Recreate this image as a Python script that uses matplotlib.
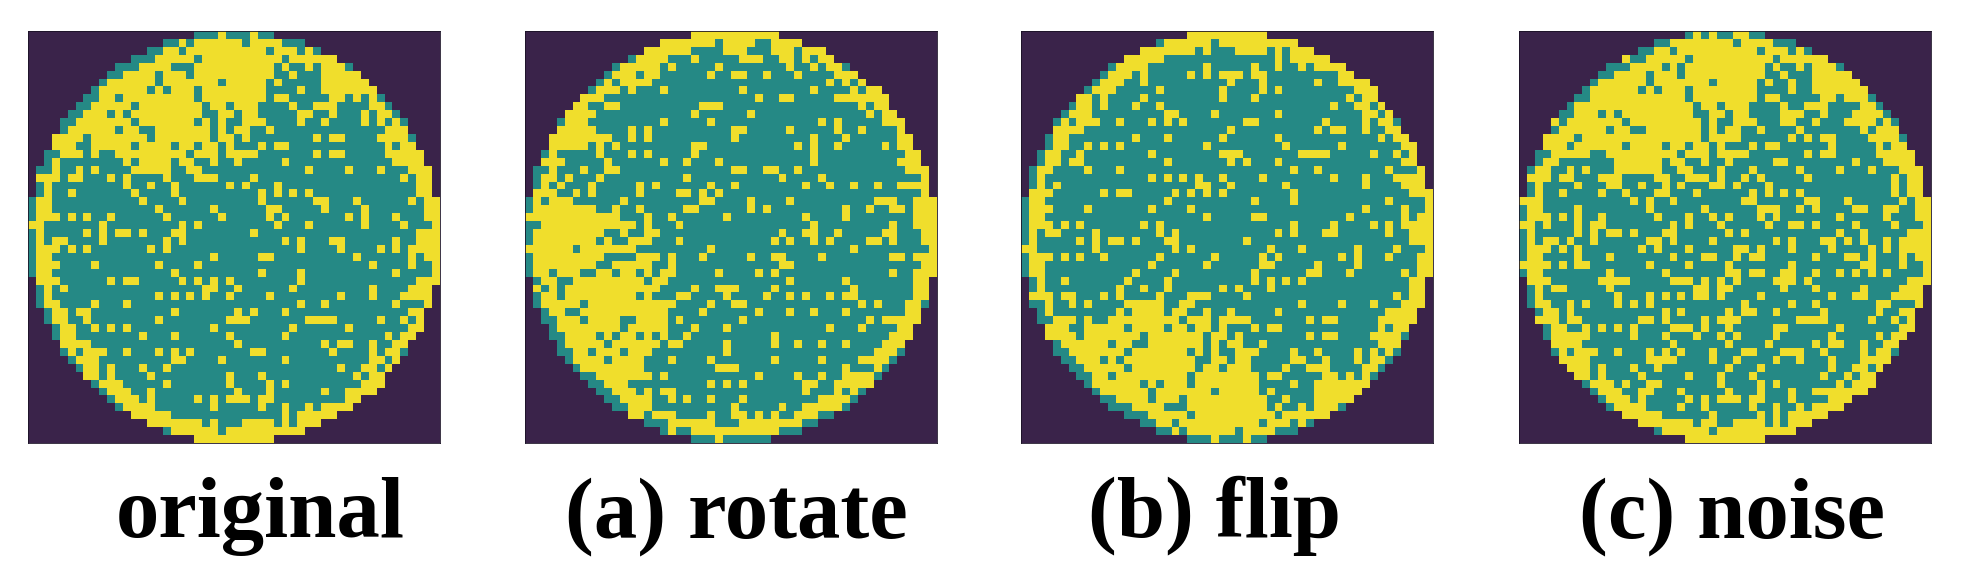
#! /usr/bin/env python

import matplotlib
matplotlib.use('Agg')
import numpy as np
import matplotlib.pyplot as plt
from matplotlib.colors import ListedColormap

# wafer maps, each row is "<kind><first column>" runs
# d = outside the wafer, g = good die, y = bad die
original_rows = [
"d0 g21 y24 g25 y28 g29 d31",
"d0 g17 y19 g20 y21 g27 y28 g32 d35",
"d0 g15 y17 g19 y20 g30 y31 g34 y35 g36 d37",
"d0 g13 y16 g21 y22 g32 y33 d39",
"d0 g11 y14 g18 y21 g31 y32 g33 y35 g36 y37 g40 d41",
"d0 g10 y12 g16 y17 g20 y21 g31 y33 g34 y37 d42",
"d0 g9 y10 g16 y17 g24 y25 g30 y31 g32 y37 d43",
"d0 g8 y9 g15 y16 g17 y18 g21 y22 g30 y34 g35 y37 d44",
"d0 g7 y9 g11 y12 g21 y22 g30 y31 g33 y38 g40 y41 g42 y43 g44 d45",
"d0 g6 y8 g13 y14 g22 y23 g25 y26 g29 y33 g34 y36 g39 y43 g45 d46",
"d0 g5 y7 g10 y11 g12 y13 g22 y24 g26 y27 g29 y34 g36 y38 g39 y42 g43 y44 g46 d47",
"d0 g4 y6 g13 y14 g21 y22 g23 y24 g25 y27 g30 y34 g35 y37 g38 y42 g43 y44 g45 y46 g47 d48",
"d0 g4 y5 g11 y12 g14 y16 g23 y24 g25 y26 g28 y30 g31 y45 d48",
"d0 y3 g7 y8 g15 y16 g23 y24 g26 y27 g28 y36 g37 y38 g40 y44 g48 d49",
"d0 y3 g6 y8 g13 y14 g18 y19 g21 y22 g24 y25 g26 y29 g30 y31 g33 y45 g46 y47 d49",
"d0 g2 y4 g7 y8 g9 y11 g20 y21 g24 y25 g29 y36 g37 y38 g40 y45 d50",
"d0 g2 y3 g4 y12 g13 y14 g18 y19 g21 y23 g24 y26 g27 y32 g33 y46 d50",
"d0 g1 y3 g4 y6 g7 y8 g9 y13 g18 y20 g22 y35 g36 y40 g41 y44 g45 y48 d51",
"d0 y1 g4 y5 g7 y10 g11 y12 g13 y17 g18 y21 g24 y28 g29 y47 g48 y49 d51",
"d0 g1 y2 g3 y12 g13 y15 g16 y18 g19 y25 g26 y27 g28 y31 g32 y49 d51",
"d0 g1 y2 g3 y5 g6 y13 g14 y18 g19 y29 g30 y31 g32 y33 g34 y35 g36 y49 d51",
"g0 y1 g3 y14 g15 y19 g20 y29 g30 y36 g38 y41 g42 y48 g49 y50",
"g0 y1 g3 y16 g17 y23 g24 y30 g32 y37 g38 y42 g43 y50",
"g0 y1 g4 y5 g6 y7 g8 y10 g11 y17 g18 y24 g25 y30 g31 y32 g33 y40 g41 y42 g43 y46 g47 y50",
"y0 g2 y9 g10 y19 g20 y21 g22 y31 g32 y35 g36 y42 g43 y47 g48 y51",
"g0 y1 g2 y7 g8 y9 g10 y11 g13 y14 g15 y18 g20 y28 g29 y49",
"g0 y1 g2 y3 g5 y9 g10 y17 g18 y19 g20 y32 g33 y34 g35 y38 g40 y46 g47 y49",
"g0 y1 g4 y5 g6 y7 g8 y15 g16 y17 g18 y34 g35 y39 g40 y44 g45 y46 g47 y48",
"g0 y1 g3 y23 g24 y29 g31 y41 g42 y48 g49 y50",
"g0 y1 g4 y8 g9 y16 g17 y21 g22 y43 g44 y48 g49 y51",
"g0 y1 g3 y18 g19 y29 g30 y34 g35 y46 g47 y51",
"d0 y1 g4 y10 g11 y12 g14 y19 g20 y21 g22 y23 g24 y25 g26 y34 g35 y49",
"d0 g1 y2 g3 y4 g5 y22 g24 y26 g27 y33 g34 y43 g44 y48 d51",
"d0 g1 y2 g3 y16 g17 y18 g19 y20 g21 y22 g23 y25 g26 y30 g31 y39 g40 y43 g44 y47 d51",
"d0 g1 y2 g4 y8 g9 y12 g13 y34 g35 y37 g38 y46 g47 y50 d51",
"d0 g2 y3 g5 y6 g8 y18 g19 y26 g27 y28 g29 y32 g33 y48 d50",
"d0 g2 y3 g5 y7 g8 y16 g17 y25 g28 y35 g39 y44 g45 y47 g48 y49 d50",
"d0 g3 y4 g6 y8 g9 y10 g11 y12 g13 y23 g24 y33 g34 y40 g41 y48 d50",
"d0 g3 y4 g6 y14 g15 y18 g19 y25 g26 y32 g33 y45 g46 y47 d49",
"d0 y4 g8 y26 g27 y37 g38 y39 g41 y43 g44 y46 d48",
"d0 g4 y5 g6 y7 g10 y12 g13 y16 g17 y18 g19 y20 g21 y28 g30 y38 g39 y43 g44 y45 g47 d48",
"d0 g5 y6 g9 y18 g20 y24 g25 y32 g33 y43 g45 y46 d47",
"d0 g6 y7 g9 y10 g11 y14 g15 y17 g18 y39 g40 y42 g44 y45 d46",
"d0 y7 g9 y10 g11 y15 g16 y25 g26 y29 g30 y41 g42 y43 d45",
"d0 g8 y9 g12 y17 g18 y25 g26 y30 g31 y32 g33 y42 d45",
"d0 g9 y10 g13 y15 g16 y26 g27 y30 g31 y37 g38 y40 d44",
"d0 g10 y11 g14 y15 g16 y21 g22 y23 g24 y25 g28 y29 g31 y40 d42",
"d0 g11 y12 g16 y23 g24 y29 g30 y32 g33 y35 g36 y37 d41",
"d0 y13 g18 y32 g33 y34 d39",
"d0 y15 g22 y23 g24 y27 g31 y32 g33 y34 d37",
"d0 g17 y18 g24 y25 d35",
"d0 y21 d31",
]

noise_rows = [
"d0 g21 y22 g23 y24 g25 y27 g29 d31",
"d0 g17 y19 g27 y28 g32 d35",
"d0 g15 y17 g19 y20 g30 y31 g34 y35 g36 d37",
"d0 y13 g14 y16 g21 y22 g32 y33 d39",
"d0 g11 y14 g18 y19 g20 y21 g31 y32 g33 y35 g36 y37 g40 d41",
"d0 g10 y12 g16 y17 g20 y21 g31 y33 g34 y37 d42",
"d0 g9 y10 g16 y17 g24 y25 g30 y31 g32 y34 g35 y37 d43",
"d0 g8 y9 g15 y16 g17 y18 g21 y22 g30 y34 g35 y37 d44",
"d0 g7 y9 g21 y22 g30 y31 g33 y38 g40 y41 g44 d45",
"d0 g6 y7 g22 y23 g25 y26 g29 y33 g34 y36 g39 y43 g45 d46",
"d0 g5 y7 g10 y11 g12 y13 g22 y24 g26 y27 g29 y33 g36 y38 g39 y42 g46 d47",
"d0 y4 g5 y6 g13 y14 g23 y24 g25 y27 g30 y33 g35 y37 g38 y41 g45 y46 g47 d48",
"d0 g4 y5 g11 y12 g14 y16 g23 y24 g25 y26 g28 y30 g31 y35 g36 y43 g44 y45 d48",
"d0 y3 g7 y8 g23 y24 g28 y34 g35 y36 g37 y38 g40 y44 g48 d49",
"d0 y3 g6 y7 g13 y14 g18 y19 g21 y22 g24 y25 g26 y29 g30 y31 g33 y39 g40 y45 g46 y47 d49",
"d0 g2 y4 g9 y11 g20 y21 g24 y25 g29 y36 g37 y38 g40 y45 d50",
"d0 g2 y3 g5 y12 g18 y19 g21 y23 g24 y26 g27 y32 g34 y42 g43 y46 d50",
"d0 g1 y2 g4 y6 g7 y8 g9 y12 g18 y20 g22 y25 g26 y29 g30 y35 g36 y40 g41 y44 g45 y48 d51",
"d0 y1 g4 y5 g7 y10 g13 y17 g19 y21 g24 y25 g26 y28 g29 y30 g31 y36 g37 y47 g48 y49 d51",
"d0 g1 y2 g3 y7 g8 y11 g13 y15 g16 y18 g19 y20 g21 y24 g26 y27 g28 y31 g32 y47 g48 y49 d51",
"d0 g1 y2 g3 y5 g6 y10 g11 y13 g14 y17 g19 y22 g23 y29 g30 y31 g32 y33 g34 y35 g36 y47 g48 y49 d51",
"y0 g3 y14 g15 y16 g17 y19 g20 y28 g30 y36 g38 y41 g42 y48 g49 y50",
"g0 y1 g3 y7 g8 y16 g17 y23 g24 y30 g33 y35 g36 y37 g38 y42 g44 y46 g48 y50",
"g0 y1 g4 y5 g6 y7 g8 y10 g11 y17 g18 y21 g22 y24 g25 y26 g27 y30 g31 y32 g33 y40 g41 y46 g47 y50",
"y0 g2 y3 g4 y7 g8 y9 g11 y19 g20 y21 g22 y25 g26 y31 g32 y34 g36 y37 g38 y42 g43 y47 g48 y51",
"g0 y1 g2 y7 g8 y9 g10 y11 g13 y14 g15 y18 g20 y26 g27 y28 g29 y40 g41 y43 g44 y49",
"g0 y1 g2 y3 g5 y6 g7 y9 g10 y16 g18 y19 g20 y24 g25 y32 g33 y34 g35 y38 g40 y41 g42 y43 g44 y46 g47 y48",
"g0 y1 g4 y5 g6 y7 g8 y15 g16 y17 g18 y21 g22 y27 g29 y30 g31 y34 g35 y39 g40 y44 g45 y46 g47 y48",
"g0 y1 g3 y7 g8 y11 g12 y19 g20 y23 g25 y27 g28 y29 g31 y37 g38 y41 g43 y44 g45 y48 g49 y50",
"y0 g4 y5 g6 y7 g9 y16 g17 y21 g22 y26 g27 y34 g35 y43 g45 y48 g49 y51",
"g0 y1 g3 y11 g12 y18 g19 y26 g28 y29 g31 y33 g35 y37 g38 y40 g41 y42 g43 y44 g45 y46 g47 y51",
"d0 y1 g4 y10 g14 y19 g22 y23 g24 y25 g26 y27 g28 y32 g35 y36 g37 y49",
"d0 g1 y2 g3 y4 g6 y11 g12 y22 g24 y25 g27 y33 g34 y37 g38 y43 g44 y48 d51",
"d0 g1 y2 g3 y12 g13 y16 g17 y18 g19 y20 g21 y22 g24 y25 g26 y30 g31 y39 g40 y42 g44 y47 d51",
"d0 g1 y2 g4 y6 g7 y8 g9 y12 g13 y14 g15 y16 g17 y28 g29 y34 g35 y37 g38 y45 g47 y50 d51",
"d0 g2 y3 g5 y6 g7 y18 g19 y20 g21 y26 g27 y28 g30 y32 g33 y38 g39 y45 g46 y48 d50",
"d0 y2 g5 y6 g8 y15 g17 y18 g19 y23 g24 y25 g28 y35 g39 y44 g45 y47 g48 y49 d50",
"d0 g3 y4 g6 y8 g9 y10 g11 y12 g13 y14 g15 y19 g22 y23 g24 y26 g27 y32 g34 y40 g41 y48 d50",
"d0 g3 y4 g9 y14 g15 y18 g19 y22 g23 y25 g26 y27 g28 y32 g33 y39 g40 y45 g46 y47 d49",
"d0 y4 g8 y19 g20 y26 g27 y31 g32 y37 g38 y39 g41 y43 g44 y46 d48",
"d0 g4 y5 g6 y7 g10 y12 g13 y16 g17 y18 g19 y20 g21 y24 g25 y28 g30 y33 g36 y38 g39 y43 g44 y45 g47 d48",
"d0 y5 g9 y16 g20 y24 g25 y27 g28 y32 g33 y35 g36 y39 g40 y43 d47",
"d0 y6 g9 y10 g11 y14 g15 y17 g18 y26 g27 y30 g31 y39 g40 y42 g44 y45 d46",
"d0 y7 g9 y10 g11 y15 g16 y21 g22 y25 g26 y29 g30 y38 g39 y41 g42 y43 d45",
"d0 g8 y9 g12 y13 g14 y16 g18 y25 g26 y30 g31 y32 g33 y40 g41 y42 d45",
"d0 g9 y10 g13 y15 g17 y20 g21 y26 g27 y30 g31 y34 g35 y37 d44",
"d0 g10 y11 g14 y15 g16 y21 g22 y23 g24 y25 g28 y29 g31 y34 g35 y39 d42",
"d0 g11 y12 g16 y20 g21 y23 g24 y29 g30 y32 g33 y35 g36 y37 d41",
"d0 y13 g18 y24 g25 y30 g31 y32 g33 y34 d39",
"d0 y15 g22 y23 g25 y27 g31 y32 g33 y34 d37",
"d0 g17 y18 g24 y25 d35",
"d0 y21 d31",
]

labels = ['original', '(a) rotate', '(b) flip', '(c) noise']

W, H = 1961, 582
panels_left = [27.7, 525.3, 1021.3, 1519.3]
panel_w = 412.0
panel_top, panel_h = 31.0, 412.0
labels_x = [260, 736, 1215, 1732]
labels_base = 537

cmap = ListedColormap(['#3A234A', '#258985', '#F0DE2C'])
kinds = {'d': 0, 'g': 1, 'y': 2}


def to_map(rows):
    out = np.zeros((len(rows), 52), dtype=int)
    for i, row in enumerate(rows):
        runs = row.split()
        for j, run in enumerate(runs):
            start = int(run[1:])
            stop = int(runs[j+1][1:]) if j+1 < len(runs) else 52
            out[i, start:stop] = kinds[run[0]]
    return out


def plot():
    original = to_map(original_rows)
    # the two augmented panels are the same map turned over
    maps = [original, np.rot90(original), np.flipud(original), to_map(noise_rows)]

    fig = plt.figure(figsize=(W/100, H/100), dpi=100)
    for m, left, label, lx in zip(maps, panels_left, labels, labels_x):
        ax = fig.add_axes([left/W, 1-(panel_top+panel_h)/H, panel_w/W, panel_h/H])
        ax.imshow(m, cmap=cmap, vmin=0, vmax=2, interpolation='nearest', aspect='auto')
        ax.set_xticks([])
        ax.set_yticks([])
        for s in ax.spines.values():
            s.set_linewidth(0.6)
            s.set_color('#1a1226')
        fig.text(lx/W, 1-labels_base/H, label, ha='center', va='baseline',
                 family='Liberation Serif', weight='bold', fontsize=62.5, color='black')
    plt.savefig('out.png', dpi=100)


if __name__ == '__main__':
    plot()
